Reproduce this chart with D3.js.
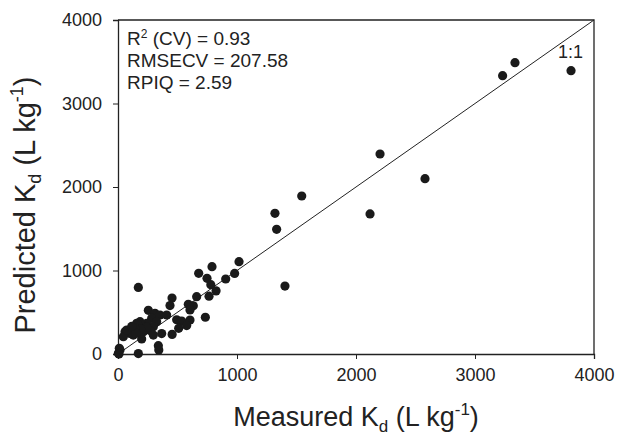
<!DOCTYPE html>
<html>
<head>
<meta charset="utf-8">
<script src="https://cdn.jsdelivr.net/npm/d3@7"></script>
<style>
  body { margin: 0; background: #fff; }
  text { font-family: Arial, "Liberation Sans", sans-serif; fill: #222; }
</style>
</head>
<body>
<div id="chart"></div>
<script>
// measured vs predicted Kd (L kg-1)
var measured = [
  3807, 3336, 3232, 2580, 2202, 2118, 1544, 1319, 1333, 1403,
  1017, 980, 905, 790, 678, 748, 780, 824, 765, 661, 734,
  454, 437, 591, 633, 605, 493, 535, 605, 577, 510, 455, 367,
  171, 255, 311, 353, 409, 283, 325, 297, 241, 269, 199,
  213, 199, 185, 171, 129, 157, 157, 185, 101, 59, 45,
  339, 343, 17, 11, 171, 3, 8, 297, 227, 240, 190, 129, 73,
  140, 150, 115
];
var predicted = [
  3393, 3489, 3333, 2100, 2395, 1677, 1892, 1685, 1493, 814,
  1106, 965, 898, 1046, 966, 906, 830, 756, 692, 687, 440,
  670, 580, 595, 577, 527, 410, 395, 407, 340, 307, 235, 245,
  797, 523, 487, 467, 467, 427, 387, 327, 367, 280, 347,
  267, 180, 387, 327, 287, 287, 367, 247, 247, 267, 207,
  100, 48, 48, 68, 5, 8, 0, 227, 300, 320, 300, 227, 287,
  310, 250, 330
];
var ticks = [0, 1000, 2000, 3000, 4000];
var stats = ['R2 (CV) = 0.93', 'RMSECV = 207.58', 'RPIQ = 2.59'];

var W = 617, H = 436;
var m = { left: 118, right: 23, top: 20, bottom: 82 };

var svg = d3.select('#chart').append('svg')
  .attr('width', W)
  .attr('height', H);

var x = d3.scaleLinear().domain([0, 4000]).range([m.left, W - m.right]);
var y = d3.scaleLinear().domain([0, 4000]).range([H - m.bottom, m.top]);

// axes
var gx = svg.append('g')
  .attr('transform', 'translate(0,' + (H - m.bottom) + ')')
  .call(d3.axisBottom(x).tickValues(ticks).tickSize(5).tickPadding(9).tickFormat(d3.format('d')));
var gy = svg.append('g')
  .attr('transform', 'translate(' + m.left + ',0)')
  .call(d3.axisLeft(y).tickValues(ticks).tickSize(5).tickPadding(11).tickFormat(d3.format('d')));
[gx, gy].forEach(function (g) {
  g.select('.domain').attr('stroke', '#222').attr('stroke-width', 1.3);
  g.selectAll('.tick line').attr('stroke', '#222');
  g.selectAll('.tick text').style('font-size', '18px').attr('fill', '#222')
    .style('font-family', 'Arial, "Liberation Sans", sans-serif');
});

// frame: top and right
svg.append('path')
  .attr('d', 'M' + x(0) + ',' + y(4000) + 'H' + x(4000) + 'V' + y(0))
  .attr('fill', 'none')
  .attr('stroke', '#222')
  .attr('stroke-width', 1.3);

// 1:1 line
svg.append('line')
  .attr('x1', x(0)).attr('y1', y(0))
  .attr('x2', x(4000)).attr('y2', y(4000))
  .attr('stroke', '#222')
  .attr('stroke-width', 1);
svg.append('text')
  .attr('x', x(4000) - 36).attr('y', y(3540))
  .style('font-size', '18px')
  .text('1:1');

// points
svg.append('g').selectAll('circle')
  .data(measured)
  .join('circle')
  .attr('cx', function (d) { return x(d); })
  .attr('cy', function (d, i) { return y(predicted[i]); })
  .attr('r', 4.6)
  .attr('fill', '#1a1a1a');

// stats
var st = svg.append('g').attr('transform', 'translate(127,45)');
stats.forEach(function (s, i) {
  var t = st.append('text').attr('y', i * 22).style('font-size', '19px');
  if (i === 0) {
    t.append('tspan').text('R');
    t.append('tspan').attr('dy', -7).style('font-size', '12px').text('2');
    t.append('tspan').attr('dy', 7).text(' (CV) = 0.93');
  } else {
    t.text(s);
  }
});

// axis titles
var xt = svg.append('text')
  .attr('x', (x(0) + x(4000)) / 2).attr('y', 426)
  .attr('text-anchor', 'middle')
  .style('font-size', '27px');
xt.append('tspan').text('Measured K');
xt.append('tspan').attr('dy', 6).style('font-size', '17px').text('d');
xt.append('tspan').attr('dy', -6).text(' (L kg');
xt.append('tspan').attr('dy', -11).style('font-size', '17px').text('-1');
xt.append('tspan').attr('dy', 11).text(')');

var yt = svg.append('text')
  .attr('transform', 'translate(35,' + 205 + ') rotate(-90)')
  .attr('text-anchor', 'middle')
  .style('font-size', '29px');
yt.append('tspan').text('Predicted K');
yt.append('tspan').attr('dy', 6).style('font-size', '18px').text('d');
yt.append('tspan').attr('dy', -6).text(' (L kg');
yt.append('tspan').attr('dy', -12).style('font-size', '18px').text('-1');
yt.append('tspan').attr('dy', 12).text(')');
</script>
</body>
</html>
